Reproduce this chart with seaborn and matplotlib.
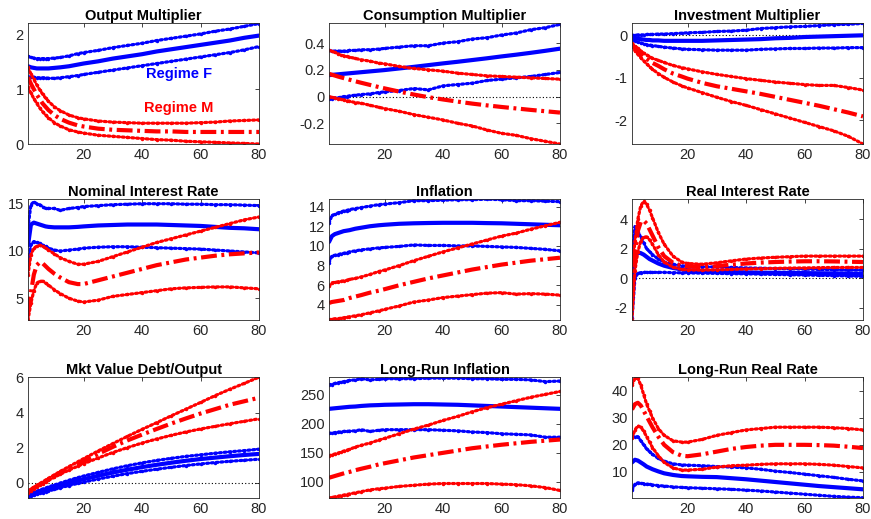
import matplotlib
matplotlib.use("Agg")
import matplotlib.pyplot as plt
import seaborn as sns
import pandas as pd

# Horizon (quarters) at which each response is recorded
T = [1, 2, 3, 4, 5, 6, 7, 8, 10, 12, 15, 18, 20, 25, 30, 35, 40, 45, 50, 55, 60, 65, 70, 75, 80]

# ---- Output Multiplier ----
out_F_hi = [1.60, 1.58, 1.57, 1.56, 1.56, 1.56, 1.56, 1.56, 1.57, 1.58, 1.61, 1.65, 1.67, 1.71, 1.76, 1.80, 1.84, 1.89, 1.93, 1.97, 2.01, 2.06, 2.10, 2.15, 2.20]
out_F_med = [1.42, 1.40, 1.39, 1.38, 1.38, 1.38, 1.38, 1.38, 1.39, 1.40, 1.42, 1.45, 1.47, 1.51, 1.56, 1.60, 1.64, 1.69, 1.73, 1.77, 1.81, 1.85, 1.89, 1.94, 1.98]
out_F_lo = [1.23, 1.22, 1.22, 1.21, 1.21, 1.21, 1.21, 1.20, 1.20, 1.21, 1.23, 1.25, 1.27, 1.31, 1.35, 1.39, 1.43, 1.47, 1.51, 1.55, 1.59, 1.63, 1.67, 1.72, 1.78]
out_M_hi = [1.40, 1.28, 1.18, 1.08, 0.99, 0.91, 0.84, 0.78, 0.68, 0.61, 0.53, 0.48, 0.46, 0.42, 0.40, 0.39, 0.38, 0.38, 0.38, 0.38, 0.39, 0.40, 0.42, 0.43, 0.44]
out_M_med = [1.22, 1.10, 1.00, 0.90, 0.82, 0.74, 0.68, 0.62, 0.53, 0.46, 0.39, 0.34, 0.32, 0.28, 0.26, 0.25, 0.24, 0.23, 0.23, 0.22, 0.22, 0.22, 0.22, 0.22, 0.22]
out_M_lo = [1.04, 0.93, 0.83, 0.74, 0.66, 0.59, 0.53, 0.48, 0.39, 0.33, 0.26, 0.22, 0.20, 0.16, 0.14, 0.12, 0.10, 0.08, 0.07, 0.05, 0.04, 0.03, 0.02, 0.01, 0.00]

# ---- Consumption Multiplier ----
con_F_hi = [0.345, 0.34, 0.34, 0.34, 0.34, 0.34, 0.34, 0.345, 0.345, 0.35, 0.35, 0.355, 0.36, 0.37, 0.38, 0.38, 0.40, 0.41, 0.43, 0.44, 0.46, 0.475, 0.50, 0.515, 0.54]
con_F_med = [0.16, 0.162, 0.164, 0.166, 0.168, 0.17, 0.172, 0.174, 0.178, 0.182, 0.188, 0.194, 0.198, 0.21, 0.222, 0.235, 0.248, 0.26, 0.273, 0.286, 0.30, 0.313, 0.327, 0.342, 0.358]
con_F_lo = [-0.02, -0.015, -0.01, -0.01, -0.005, 0.0, 0.0, 0.005, 0.01, 0.015, 0.02, 0.03, 0.035, 0.045, 0.06, 0.05, 0.08, 0.09, 0.10, 0.12, 0.13, 0.14, 0.15, 0.165, 0.18]
con_M_hi = [0.345, 0.34, 0.33, 0.32, 0.31, 0.305, 0.30, 0.295, 0.285, 0.275, 0.265, 0.25, 0.245, 0.225, 0.21, 0.20, 0.19, 0.175, 0.165, 0.155, 0.15, 0.145, 0.14, 0.135, 0.13]
con_M_med = [0.17, 0.163, 0.157, 0.15, 0.144, 0.138, 0.132, 0.126, 0.114, 0.103, 0.087, 0.071, 0.061, 0.037, 0.015, -0.005, -0.022, -0.038, -0.053, -0.066, -0.078, -0.089, -0.10, -0.11, -0.12]
con_M_lo = [0.0, -0.005, -0.01, -0.015, -0.02, -0.025, -0.03, -0.035, -0.045, -0.05, -0.065, -0.08, -0.09, -0.11, -0.135, -0.155, -0.175, -0.20, -0.22, -0.25, -0.275, -0.29, -0.315, -0.335, -0.355]

# ---- Investment Multiplier ----
inv_F_hi = [0.0, 0.0, 0.01, 0.01, 0.01, 0.02, 0.02, 0.02, 0.03, 0.03, 0.04, 0.05, 0.06, 0.07, 0.09, 0.10, 0.12, 0.16, 0.18, 0.20, 0.21, 0.23, 0.25, 0.26, 0.28]
inv_F_med = [-0.05, -0.07, -0.08, -0.09, -0.10, -0.11, -0.11, -0.12, -0.12, -0.13, -0.13, -0.13, -0.13, -0.13, -0.12, -0.11, -0.10, -0.09, -0.07, -0.06, -0.04, -0.03, -0.02, -0.01, 0.0]
inv_F_lo = [-0.10, -0.13, -0.16, -0.18, -0.20, -0.22, -0.23, -0.24, -0.26, -0.28, -0.30, -0.32, -0.33, -0.34, -0.35, -0.35, -0.35, -0.33, -0.32, -0.31, -0.31, -0.30, -0.30, -0.29, -0.29]
inv_M_hi = [-0.19, -0.25, -0.31, -0.37, -0.42, -0.46, -0.50, -0.54, -0.59, -0.64, -0.71, -0.76, -0.79, -0.86, -0.92, -0.97, -1.02, -1.06, -1.10, -1.13, -1.16, -1.18, -1.18, -1.23, -1.29]
inv_M_med = [-0.22, -0.30, -0.37, -0.44, -0.50, -0.55, -0.60, -0.65, -0.72, -0.80, -0.90, -0.97, -1.02, -1.12, -1.20, -1.26, -1.32, -1.38, -1.45, -1.52, -1.59, -1.66, -1.74, -1.82, -1.91]
inv_M_lo = [-0.25, -0.36, -0.45, -0.53, -0.60, -0.67, -0.74, -0.80, -0.90, -0.99, -1.10, -1.19, -1.24, -1.35, -1.46, -1.56, -1.65, -1.75, -1.85, -1.95, -2.05, -2.15, -2.25, -2.38, -2.56]

# ---- Nominal Interest Rate ----
nom_F_hi = [12.5, 14.9, 15.2, 15.0, 14.9, 14.7, 14.5, 14.5, 14.5, 14.3, 14.5, 14.6, 14.7, 14.8, 14.9, 14.95, 15.0, 15.0, 15.0, 14.95, 14.95, 14.9, 14.9, 14.85, 14.8]
nom_F_med = [10.6, 12.8, 13.0, 12.9, 12.8, 12.7, 12.6, 12.55, 12.5, 12.5, 12.5, 12.55, 12.6, 12.7, 12.75, 12.8, 12.8, 12.8, 12.75, 12.7, 12.65, 12.55, 12.45, 12.4, 12.3]
nom_F_lo = [8.5, 10.7, 11.0, 10.9, 10.8, 10.6, 10.5, 10.3, 10.1, 10.0, 10.1, 10.2, 10.3, 10.4, 10.45, 10.45, 10.4, 10.35, 10.3, 10.25, 10.2, 10.1, 10.0, 9.9, 9.8]
nom_M_hi = [7.5, 9.6, 10.3, 10.5, 10.6, 10.5, 10.3, 10.1, 9.7, 9.3, 8.9, 8.6, 8.6, 8.9, 9.4, 9.9, 10.4, 10.9, 11.3, 11.7, 12.1, 12.5, 12.9, 13.3, 13.6]
nom_M_med = [3.5, 5.6, 7.5, 8.5, 8.8, 8.7, 8.4, 8.1, 7.6, 7.2, 6.7, 6.5, 6.5, 6.9, 7.3, 7.7, 8.1, 8.5, 8.8, 9.1, 9.3, 9.5, 9.65, 9.75, 9.85]
nom_M_lo = [2.7, 4.5, 5.8, 6.6, 6.8, 6.8, 6.6, 6.4, 5.9, 5.5, 5.0, 4.7, 4.6, 4.8, 5.2, 5.4, 5.6, 5.8, 6.0, 6.1, 6.15, 6.2, 6.2, 6.1, 6.0]

# ---- Inflation ----
inf_F_hi = [12.3, 13.1, 13.2, 13.35, 13.45, 13.55, 13.6, 13.7, 13.8, 13.9, 14.05, 14.2, 14.25, 14.4, 14.6, 14.6, 14.65, 14.7, 14.7, 14.75, 14.7, 14.6, 14.6, 14.55, 14.5]
inf_F_med = [10.4, 11.0, 11.2, 11.3, 11.4, 11.5, 11.55, 11.6, 11.75, 11.85, 12.0, 12.1, 12.15, 12.25, 12.3, 12.33, 12.35, 12.35, 12.35, 12.32, 12.3, 12.25, 12.2, 12.15, 12.1]
inf_F_lo = [8.3, 9.0, 9.05, 9.1, 9.2, 9.25, 9.3, 9.4, 9.5, 9.6, 9.7, 9.8, 9.85, 9.95, 10.1, 10.05, 10.05, 10.0, 10.0, 9.95, 9.9, 9.85, 9.75, 9.65, 9.5]
inf_M_hi = [5.9, 6.25, 6.3, 6.35, 6.4, 6.45, 6.5, 6.6, 6.7, 6.85, 7.1, 7.4, 7.55, 8.0, 8.5, 8.95, 9.4, 9.8, 10.2, 10.6, 11.0, 11.3, 11.7, 12.05, 12.4]
inf_M_med = [4.2, 4.3, 4.35, 4.4, 4.45, 4.5, 4.6, 4.7, 4.85, 5.0, 5.25, 5.45, 5.6, 6.0, 6.35, 6.7, 7.0, 7.3, 7.6, 7.85, 8.1, 8.3, 8.5, 8.65, 8.8]
inf_M_lo = [2.5, 2.55, 2.6, 2.6, 2.65, 2.7, 2.75, 2.8, 2.9, 3.0, 3.2, 3.4, 3.55, 3.9, 4.3, 4.5, 4.75, 4.9, 5.05, 5.2, 5.25, 5.1, 5.15, 5.1, 5.0]

# ---- Real Interest Rate ----
real_F_hi = [1.5, 3.5, 3.1, 2.8, 2.4, 2.0, 1.8, 1.6, 1.3, 1.1, 0.95, 0.85, 0.8, 0.78, 0.76, 0.73, 0.7, 0.68, 0.66, 0.64, 0.62, 0.6, 0.58, 0.56, 0.55]
real_F_med = [-0.5, 1.5, 1.75, 1.7, 1.6, 1.45, 1.3, 1.2, 1.0, 0.85, 0.7, 0.6, 0.55, 0.48, 0.45, 0.42, 0.4, 0.38, 0.37, 0.36, 0.35, 0.34, 0.33, 0.32, 0.3]
real_F_lo = [-2.7, 0.0, 0.35, 0.38, 0.4, 0.4, 0.4, 0.4, 0.4, 0.4, 0.38, 0.37, 0.36, 0.35, 0.33, 0.31, 0.3, 0.28, 0.26, 0.24, 0.22, 0.2, 0.18, 0.16, 0.13]
real_M_hi = [0.5, 2.5, 4.0, 4.9, 5.2, 5.0, 4.6, 4.1, 3.1, 2.3, 1.5, 1.1, 1.0, 0.95, 1.05, 1.18, 1.3, 1.37, 1.42, 1.46, 1.5, 1.5, 1.5, 1.5, 1.5]
real_M_med = [-1.0, 1.5, 3.2, 3.8, 3.9, 3.7, 3.3, 2.9, 2.1, 1.5, 1.05, 0.85, 0.8, 0.75, 0.82, 0.92, 1.0, 1.06, 1.1, 1.13, 1.15, 1.15, 1.14, 1.12, 1.1]
real_M_lo = [-2.8, 0.5, 1.8, 2.5, 2.8, 2.8, 2.6, 2.3, 1.6, 1.1, 0.75, 0.6, 0.57, 0.55, 0.57, 0.6, 0.63, 0.65, 0.67, 0.69, 0.7, 0.72, 0.73, 0.73, 0.73]

# ---- Mkt Value Debt/Output ----
debt_F_hi = [-0.65, -0.59, -0.53, -0.47, -0.41, -0.35, -0.29, -0.23, -0.12, -0.01, 0.15, 0.3, 0.39, 0.6, 0.8, 0.98, 1.14, 1.28, 1.4, 1.51, 1.6, 1.69, 1.77, 1.84, 1.92]
debt_F_med = [-0.72, -0.67, -0.61, -0.56, -0.5, -0.45, -0.4, -0.34, -0.24, -0.14, 0.0, 0.13, 0.21, 0.41, 0.59, 0.75, 0.9, 1.03, 1.15, 1.26, 1.36, 1.44, 1.52, 1.59, 1.65]
debt_F_lo = [-0.8, -0.75, -0.7, -0.65, -0.6, -0.55, -0.5, -0.46, -0.37, -0.28, -0.15, -0.03, 0.04, 0.22, 0.38, 0.53, 0.66, 0.78, 0.89, 0.99, 1.08, 1.16, 1.23, 1.29, 1.35]
debt_M_hi = [-0.45, -0.35, -0.24, -0.14, -0.04, 0.06, 0.16, 0.26, 0.46, 0.65, 0.93, 1.2, 1.38, 1.82, 2.24, 2.65, 3.05, 3.43, 3.82, 4.2, 4.58, 4.97, 5.33, 5.67, 6.02]
debt_M_med = [-0.5, -0.4, -0.29, -0.19, -0.09, 0.01, 0.11, 0.2, 0.39, 0.57, 0.84, 1.08, 1.24, 1.65, 2.05, 2.42, 2.75, 3.07, 3.38, 3.67, 3.95, 4.2, 4.45, 4.65, 4.85]
debt_M_lo = [-0.55, -0.45, -0.34, -0.24, -0.14, -0.05, 0.05, 0.14, 0.32, 0.49, 0.73, 0.95, 1.09, 1.42, 1.73, 2.01, 2.27, 2.5, 2.71, 2.9, 3.07, 3.22, 3.37, 3.51, 3.65]

# ---- Long-Run Inflation ----
lrinf_F_hi = [268, 268, 270, 271, 272, 273, 274, 275, 276, 278, 276, 277, 278, 278, 278, 279, 279, 279, 278, 278, 277, 277, 276, 273, 274]
lrinf_F_med = [226, 226.5, 227, 227.5, 228, 228.5, 229, 229.5, 230, 231, 232, 232.5, 233, 233.5, 234, 234, 233.5, 233, 232, 231, 230, 229, 228, 227, 226]
lrinf_F_lo = [184, 184, 185, 186, 186, 187, 187, 187.5, 188, 190, 187, 189, 190, 190, 190, 190, 189, 188, 186, 185, 183, 182, 181, 177, 177]
lrinf_M_hi = [145, 146.5, 148, 149.5, 151, 153, 154.5, 156, 160, 163, 167, 172, 175, 183, 191, 198, 206, 213, 221, 228, 234, 240, 246, 251, 256]
lrinf_M_med = [107, 108.5, 110, 111.5, 113, 114.5, 116, 117, 120, 122.5, 126, 130, 132, 137, 142, 146, 150, 154, 158, 161, 164, 166.5, 169, 171, 173]
lrinf_M_lo = [72, 73, 74, 75, 76, 77, 78, 79, 81, 83, 86, 88, 89, 92, 94, 96, 97, 97, 97, 97, 96, 95, 93, 90, 85]

# ---- Long-Run Real Rate ----
lrr_F_hi = [23, 23, 23, 21.5, 20, 18.5, 17.5, 16.5, 15, 14, 13, 12.6, 12.5, 12.3, 12, 11.8, 11.5, 11, 10.3, 9.8, 9.2, 8.6, 8, 7.3, 6.7]
lrr_F_med = [13.5, 14.5, 14.2, 13.5, 12.8, 12, 11.5, 11, 10.2, 9.5, 8.9, 8.5, 8.4, 8.2, 8.1, 7.7, 7.3, 6.8, 6.3, 5.8, 5.3, 4.8, 4.4, 4.0, 3.6]
lrr_F_lo = [3.2, 5.5, 6.0, 5.8, 5.7, 5.5, 5.4, 5.2, 5.0, 4.8, 4.5, 4.3, 4.2, 4.0, 3.8, 3.6, 3.3, 3.0, 2.6, 2.2, 1.8, 1.4, 1.0, 0.7, 0.5]
lrr_M_hi = [42, 44.5, 44.5, 42, 38.5, 35, 32.5, 30, 26, 23.5, 21.5, 21, 21, 22, 23.5, 24.5, 25.5, 26, 26.5, 26.5, 26.5, 26.5, 26.3, 26, 25.5]
lrr_M_med = [33, 35, 35.5, 34.5, 32.5, 30.5, 28.5, 26.5, 23, 20, 17.3, 16, 15.8, 16.5, 17.5, 18.5, 19.2, 19.7, 20, 20, 20, 19.9, 19.7, 19.3, 18.8]
lrr_M_lo = [22.5, 25.5, 27, 26.5, 25, 23, 21, 19, 16, 13.5, 11.5, 10.7, 10.7, 11, 11.8, 12.3, 12.5, 12.8, 13, 13, 13, 12.8, 12.5, 12, 11.5]

titles = ["Output Multiplier", "Consumption Multiplier", "Investment Multiplier",
          "Nominal Interest Rate", "Inflation", "Real Interest Rate",
          "Mkt Value Debt/Output", "Long-Run Inflation", "Long-Run Real Rate"]

series = [
    (out_F_lo, out_F_med, out_F_hi, out_M_lo, out_M_med, out_M_hi),
    (con_F_lo, con_F_med, con_F_hi, con_M_lo, con_M_med, con_M_hi),
    (inv_F_lo, inv_F_med, inv_F_hi, inv_M_lo, inv_M_med, inv_M_hi),
    (nom_F_lo, nom_F_med, nom_F_hi, nom_M_lo, nom_M_med, nom_M_hi),
    (inf_F_lo, inf_F_med, inf_F_hi, inf_M_lo, inf_M_med, inf_M_hi),
    (real_F_lo, real_F_med, real_F_hi, real_M_lo, real_M_med, real_M_hi),
    (debt_F_lo, debt_F_med, debt_F_hi, debt_M_lo, debt_M_med, debt_M_hi),
    (lrinf_F_lo, lrinf_F_med, lrinf_F_hi, lrinf_M_lo, lrinf_M_med, lrinf_M_hi),
    (lrr_F_lo, lrr_F_med, lrr_F_hi, lrr_M_lo, lrr_M_med, lrr_M_hi),
]

ylims = [(0, 2.21), (-0.355, 0.55), (-2.56, 0.29),
         (2.7, 15.5), (2.47, 14.77), (-2.82, 5.36),
         (-0.86, 6.03), (72, 281), (0.4, 45)]
yticks = [[0, 1, 2], [-0.2, 0, 0.2, 0.4], [-2, -1, 0],
          [5, 10, 15], [4, 6, 8, 10, 12, 14], [-2, 0, 2, 4],
          [0, 2, 4, 6], [100, 150, 200, 250], [10, 20, 30, 40]]
yticklabels = [["0", "1", "2"], ["-0.2", "0", "0.2", "0.4"], ["-2", "-1", "0"],
               ["5", "10", "15"], ["4", "6", "8", "10", "12", "14"], ["-2", "0", "2", "4"],
               ["0", "2", "4", "6"], ["100", "150", "200", "250"], ["10", "20", "30", "40"]]

sns.set_theme(style="white")
plt.rcParams["font.family"] = ["Liberation Sans", "DejaVu Sans"]
plt.rcParams["axes.edgecolor"] = "#262626"
plt.rcParams["axes.linewidth"] = 0.6

BLUE = (0, 0, 1)
RED = (1, 0, 0)
TXT = "#262626"

fig = plt.figure(figsize=(8.71, 5.19), dpi=100)

lefts = [28 / 871, 329 / 871, 632 / 871]
bottoms = [1 - 144 / 519, 1 - 320 / 519, 1 - 498 / 519]
width = 231 / 871
height = 121 / 519

dashdot = (0, (3.8, 1.1, 0.7, 1.1))
beads = (0, (0.6, 0.9))


def band(ax, df, col, color):
    line = sns.lineplot(data=df, x="t", y=col, ax=ax, color=color, lw=2.3,
                        linestyle=beads, dash_capstyle="round",
                        marker=".", markersize=5, markeredgewidth=0,
                        estimator=None, sort=False)
    return line


for k in range(9):
    r, c = divmod(k, 3)
    ax = fig.add_axes([lefts[c], bottoms[r], width, height])
    F_lo, F_med, F_hi, M_lo, M_med, M_hi = series[k]
    df = pd.DataFrame({"t": T, "F_lo": F_lo, "F_med": F_med, "F_hi": F_hi,
                       "M_lo": M_lo, "M_med": M_med, "M_hi": M_hi})

    ax.plot([1, 80], [0, 0], color="black", lw=0.8, linestyle=(0, (1, 2)), zorder=1)

    band(ax, df, "F_lo", BLUE)
    band(ax, df, "F_hi", BLUE)
    sns.lineplot(data=df, x="t", y="F_med", ax=ax, color=BLUE, lw=3.0,
                 estimator=None, sort=False)
    band(ax, df, "M_lo", RED)
    band(ax, df, "M_hi", RED)
    sns.lineplot(data=df, x="t", y="M_med", ax=ax, color=RED, lw=3.0,
                 linestyle=dashdot, estimator=None, sort=False)

    ax.set_xlim(1, 80)
    ax.set_ylim(*ylims[k])
    ax.set_xticks([20, 40, 60, 80])
    ax.set_xticklabels(["20", "40", "60", "80"])
    ax.set_yticks(yticks[k])
    ax.set_yticklabels(yticklabels[k])
    ax.set_xlabel("")
    ax.set_ylabel("")
    ax.tick_params(direction="in", length=3, width=0.6, top=True, right=True,
                   labelsize=10.5, colors=TXT, pad=3)
    for s in ax.spines.values():
        s.set_visible(True)
        s.set_color(TXT)
        s.set_linewidth(0.6)
    ax.set_title(titles[k], fontsize=10.5, fontweight="bold", color="black", pad=2)

    if k == 0:
        ax.text(52.5, 1.28, "Regime F", color=BLUE, fontsize=10.5, fontweight="bold",
                ha="center", va="center")
        ax.text(52.5, 0.66, "Regime M", color=RED, fontsize=10.5, fontweight="bold",
                ha="center", va="center")

fig.savefig("out.png", dpi=100)
